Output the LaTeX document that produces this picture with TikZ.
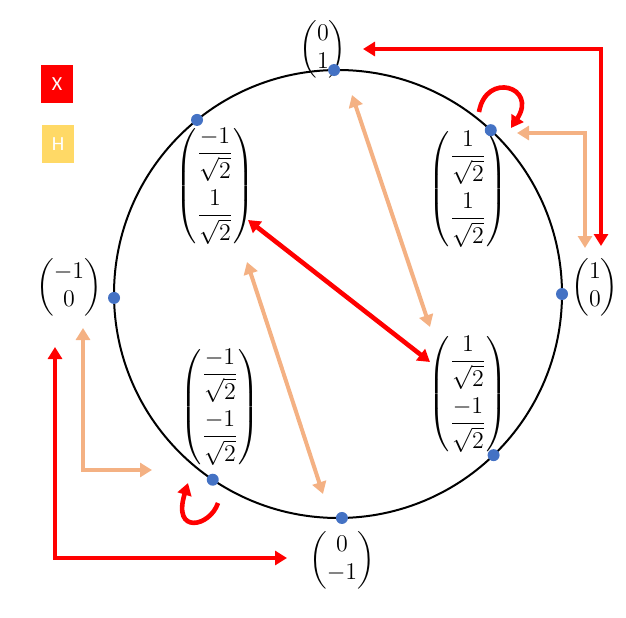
\documentclass[tikz,border=0pt]{standalone}
\usepackage{amsmath}
\usepackage{fontspec}
\newfontfamily\gatefont{Carlito}
\usetikzlibrary{arrows.meta,calc}
\definecolor{xred}{RGB}{255,0,0}
\definecolor{hgold}{RGB}{255,217,102}
\definecolor{hpeach}{RGB}{244,177,131}
\definecolor{dotblue}{RGB}{68,114,196}
\tikzset{>={Triangle[width=7pt,length=6pt]},every node/.style={font=\large},
  vec/.style={inner sep=0pt},
  dot/.style={circle,fill=dotblue,inner sep=0pt,minimum size=6pt},
  gate/.style={fill=#1,text=white,minimum width=16pt,minimum height=19pt,inner sep=0pt,font=\gatefont\fontsize{10}{12}\selectfont},
  xflow/.style={xred,line width=2.3pt,<->},xloop/.style={xred,line width=2.3pt,->},
  hflow/.style={hpeach,line width=2pt,<->}}
\newcommand{\isq}{\dfrac{1}{\sqrt{2}}}
\newcommand{\misq}{\dfrac{-1}{\sqrt{2}}}

\begin{document}
\begin{tikzpicture}[x=.5pt,y=.5pt]
\useasboundingbox (0,0) rectangle (626,617);
\coordinate (c) at (338,323);
\draw[line width=1pt] (c) circle[radius=224];
% states on the circle
\node[vec] (v01) at (323,568) {$\begin{pmatrix}0\\1\end{pmatrix}$};
\node[vec] (v10) at (595,330) {$\begin{pmatrix}1\\0\end{pmatrix}$};
\node[vec] (v0m) at (342,57) {$\begin{pmatrix}0\\-1\end{pmatrix}$};
\node[vec] (vm0) at (69,330) {$\begin{pmatrix}-1\\0\end{pmatrix}$};
\node[vec] (vpp) at (468,428) {$\begin{pmatrix}\isq\\[11pt]\isq\end{pmatrix}$};
\node[vec] (vmp) at (215,431) {$\begin{pmatrix}\misq\\[11pt]\isq\end{pmatrix}$};
\node[vec] (vpm) at (468,223) {$\begin{pmatrix}\isq\\[11pt]\misq\end{pmatrix}$};
\node[vec] (vmm) at (220,210) {$\begin{pmatrix}\misq\\[11pt]\misq\end{pmatrix}$};
\foreach \a/\n in {91/top,0/right,-89/bottom,181/left,47/ur,129/ul,-46/lr,-124/ll}
  \node[dot] (d\n) at ($(c)+(\a:224)$) {};
% gates
\node[gate=xred] (gx) at (57,533) {X};
\node[gate=hgold] (gh) at (58,473) {H};
% X arrows
\coordinate (x1) at (363,568);\coordinate (x2) at (601,371);
\coordinate (x3) at (55,270);\coordinate (x4) at (287,59);
\coordinate (x5) at (248,397);\coordinate (x6) at (430,255);
\draw[xflow] (x1) -| (x2);
\draw[xflow] (x3) |- (x4);
\draw[xflow] (x5) -- (x6);
\draw[xloop] (479,505) .. controls (486,546) and (538,530) .. (511,489);
\draw[xloop] (218,114) .. controls (210,90) and (172,82) .. (188,134);
% H arrows
\coordinate (h1) at (517,484);\coordinate (h2) at (585,369);
\coordinate (h3) at (83,289);\coordinate (h4) at (152,147);
\coordinate (h5) at (352,522);\coordinate (h6) at (430,290);
\coordinate (h7) at (247,355);\coordinate (h8) at (323,123);
\draw[hflow] (h1) -| (h2);
\draw[hflow] (h3) |- (h4);
\draw[hflow] (h5) -- (h6);
\draw[hflow] (h7) -- (h8);
\end{tikzpicture}
\end{document}
